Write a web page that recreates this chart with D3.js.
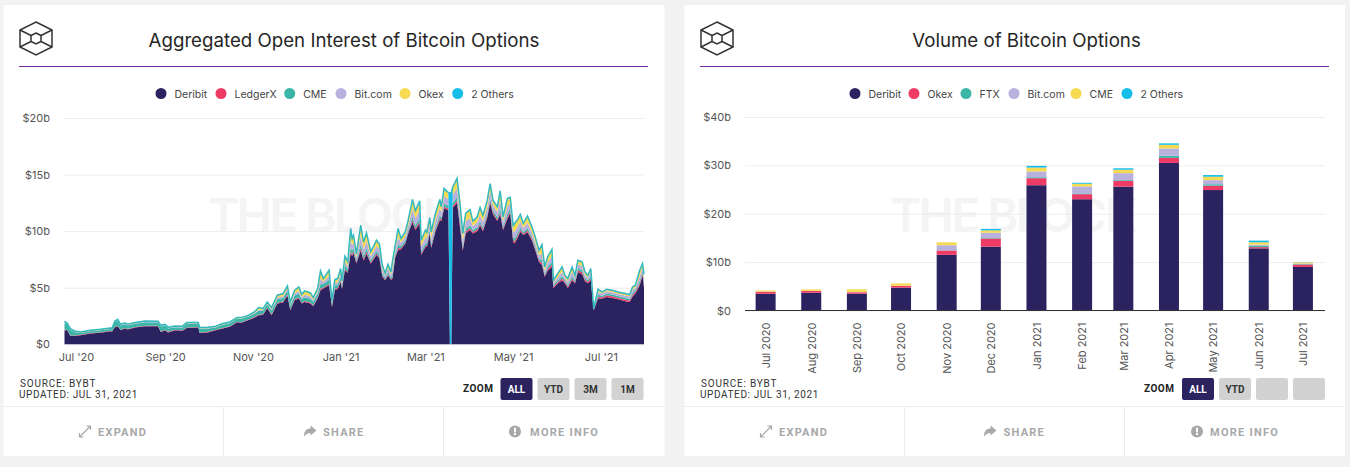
<!DOCTYPE html>
<html>
<head>
<meta charset="utf-8">
<script src="https://cdn.jsdelivr.net/npm/d3@7"></script>
<style>
    html, body { margin: 0; padding: 0; background: #f2f2f2; overflow: hidden; }
    svg { display: block; }
    text { font-family: Inter, "Noto Sans", sans-serif; }
    .foot text, text.foot { font-family: Roboto, sans-serif; }
    .axis path { display: none; }
    .axis text { fill: #555; font-size: 11px; }
</style>
</head>
<body>
<svg id="page" width="1350" height="467"></svg>
<script>
// colours are by position in the legend, both charts share them
const seriesColors = ["#2b2260", "#ee3b66", "#3ab5a6", "#b9b1dd", "#f6da52", "#16bde9"];

// ---- open interest chart, $ billions
const oiLegend = ["Deribit", "LedgerX", "CME", "Bit.com", "Okex", "2 Others"];
const oiTicks = [0, 5, 10, 15, 20];
const oiDateTicks = ["2020-07-01", "2020-09-01", "2020-11-01", "2021-01-01", "2021-03-01", "2021-05-01", "2021-07-01"];
const oiDates = [
    "2020-06-23", "2020-06-25", "2020-06-27", "2020-06-30",
    "2020-07-04", "2020-07-11", "2020-07-18", "2020-07-25", "2020-07-26", "2020-07-28", "2020-07-30",
    "2020-08-01", "2020-08-04", "2020-08-06", "2020-08-11", "2020-08-18", "2020-08-27", "2020-08-29",
    "2020-09-01", "2020-09-03", "2020-09-08", "2020-09-13", "2020-09-16", "2020-09-24", "2020-09-25", "2020-09-30",
    "2020-10-06", "2020-10-11", "2020-10-16", "2020-10-21", "2020-10-24", "2020-10-29",
    "2020-11-02", "2020-11-05", "2020-11-08", "2020-11-11", "2020-11-14", "2020-11-18", "2020-11-22", "2020-11-25", "2020-11-27", "2020-11-30",
    "2020-12-03", "2020-12-05", "2020-12-07", "2020-12-11", "2020-12-13", "2020-12-16", "2020-12-18", "2020-12-20", "2020-12-24", "2020-12-26", "2020-12-28", "2020-12-30",
    "2021-01-01", "2021-01-02", "2021-01-04", "2021-01-06", "2021-01-08", "2021-01-09", "2021-01-10", "2021-01-12", "2021-01-15", "2021-01-17", "2021-01-19", "2021-01-22", "2021-01-26", "2021-01-28", "2021-01-30",
    "2021-02-01", "2021-02-03", "2021-02-05", "2021-02-06", "2021-02-08", "2021-02-10", "2021-02-12", "2021-02-15", "2021-02-17", "2021-02-20", "2021-02-22", "2021-02-25", "2021-02-26",
    "2021-03-01", "2021-03-02", "2021-03-04", "2021-03-05", "2021-03-08", "2021-03-11", "2021-03-12", "2021-03-14", "2021-03-17", "2021-03-18", "2021-03-19", "2021-03-20", "2021-03-21", "2021-03-23", "2021-03-25", "2021-03-27", "2021-03-29",
    "2021-04-01", "2021-04-03", "2021-04-06", "2021-04-08", "2021-04-10", "2021-04-13", "2021-04-15", "2021-04-17", "2021-04-20", "2021-04-22", "2021-04-24", "2021-04-27", "2021-04-29",
    "2021-05-01", "2021-05-02", "2021-05-04", "2021-05-06", "2021-05-08", "2021-05-11", "2021-05-14", "2021-05-16", "2021-05-19", "2021-05-21", "2021-05-23", "2021-05-25", "2021-05-28", "2021-05-29",
    "2021-06-01", "2021-06-04", "2021-06-06", "2021-06-08", "2021-06-11", "2021-06-13", "2021-06-15", "2021-06-18", "2021-06-20", "2021-06-22", "2021-06-24", "2021-06-26", "2021-06-29",
    "2021-07-02", "2021-07-05", "2021-07-09", "2021-07-13", "2021-07-18", "2021-07-21", "2021-07-23", "2021-07-25", "2021-07-28", "2021-07-30", "2021-07-31"
];
const oiDeribit = [
    1.24, 1.24, .73, .73,
    .80, .95, 1.03, 1.15, 1.12, 1.50, 1.59,
    1.24, 1.40, 1.30, 1.48, 1.59, 1.59, 1.09,
    1.24, 1.05, 1.24, 1.20, 1.44, 1.48, 1.00, 1.03,
    1.24, 1.40, 1.55, 1.95, 1.90, 2.15,
    2.35, 2.57, 2.60, 3.20, 2.57, 3.60, 3.70, 4.34, 3.00, 3.90,
    4.05, 3.60, 3.74, 3.60, 3.36, 4.05, 4.78, 4.93, 5.22, 3.30, 4.78, 4.90,
    5.51, 4.90, 6.55, 6.30, 8.05, 7.80, 8.05, 7.15, 8.30, 7.40, 8.00, 7.15, 7.90, 7.60, 6.00,
    5.66, 6.10, 5.70, 5.80, 7.70, 8.32, 8.40, 8.90, 9.80, 10.8, 10.1, 10.7, 7.90,
    8.60, 8.60, 9.80, 8.50, 10.0, 10.97, 10.9, 12.0, 11.86, 0, 0, 12.1, 12.2, 12.5, 10.4, 8.30, 9.80,
    10.1, 9.80, 10.0, 10.5, 10.0, 11.2, 12.5, 11.5, 10.9, 11.5, 10.1, 11.1, 11.6,
    9.05, 8.90, 9.40, 9.94, 9.65, 9.90, 9.20, 8.47, 7.28, 7.00, 5.96, 6.50, 6.84, 4.98,
    5.37, 5.66, 5.40, 4.98, 5.66, 5.37, 6.40, 6.20, 5.57, 5.40, 5.66, 3.00, 4.04,
    4.04, 4.19, 4.10, 3.98, 3.80, 3.74, 4.20, 4.50, 5.20, 6.10, 5.00
];
const oiLedgerX = [
    .05, .05, .05, .05,
    .04, .04, .04, .04, .04, .05, .05,
    .05, .05, .05, .05, .05, .05, .05,
    .05, .05, .05, .05, .05, .05, .05, .05,
    .05, .05, .05, .05, .05, .05,
    .06, .07, .06, .06, .08, .08, .08, .08, .08, .08,
    .09, .08, .09, .09, .08, .09, .12, .10, .12, .08, .10, .10,
    .12, .10, .12, .10, .18, .16, .16, .10, .20, .15, .18, .10, .12, .12, .10,
    .07, .10, .07, .12, .10, .16, .10, .10, .10, .18, .16, .18, .12,
    .12, .12, .12, .12, .14, .16, .12, .16, .14, .01, .01, .16, .18, .20, .20, .14, .16,
    .16, .12, .14, .16, .15, .16, .18, .14, .14, .20, .14, .18, .16,
    .16, .18, .18, .16, .12, .16, .14, .14, .12, .20, .12, .16, .18, .12,
    .13, .16, .12, .13, .16, .12, .15, .16, .13, .12, .16, .03, .15,
    .12, .14, .14, .13, .13, .13, .16, .14, .18, .18, .18
];
const oiCme = [
    .64, .46, .51, .30,
    .16, .17, .18, .17, .16, .41, .47,
    .38, .33, .32, .29, .31, .28, .43,
    .37, .29, .22, .24, .32, .28, .32, .29,
    .19, .27, .26, .25, .30, .26,
    .28, .33, .30, .28, .33, .30, .31, .32, .30, .33,
    .35, .31, .33, .33, .31, .32, .40, .30, .36, .22, .28, .28,
    .30, .20, .30, .25, .35, .30, .30, .20, .35, .30, .30, .20, .22, .22, .20,
    .15, .18, .15, .25, .20, .30, .20, .20, .20, .30, .25, .30, .20,
    .22, .22, .22, .22, .24, .26, .20, .26, .24, .01, .01, .26, .28, .30, .30, .22, .26,
    .26, .18, .20, .22, .20, .22, .25, .20, .20, .30, .20, .26, .24,
    .24, .26, .24, .22, .16, .20, .18, .18, .16, .26, .15, .20, .24, .14,
    .16, .20, .14, .16, .20, .14, .18, .20, .15, .14, .20, .04, .18,
    .14, .16, .16, .15, .16, .16, .18, .16, .22, .20, .22
];
const oiBitcom = [
    .02, .02, .02, .02,
    .02, .02, .02, .02, .02, .03, .03,
    .03, .03, .03, .03, .04, .04, .04,
    .04, .04, .04, .04, .04, .04, .04, .04,
    .04, .04, .04, .04, .04, .04,
    .06, .09, .07, .07, .10, .13, .15, .16, .15, .20,
    .23, .18, .22, .22, .16, .20, .50, .20, .35, .10, .22, .22,
    .30, .15, .32, .25, .75, .50, .52, .25, .78, .55, .65, .35, .45, .45, .35,
    .20, .35, .23, .50, .36, .68, .30, .35, .40, .72, .62, .72, .45,
    .52, .45, .50, .52, .60, .70, .45, .68, .58, .01, .01, .66, .75, .80, .80, .50, .65,
    .65, .36, .45, .55, .50, .55, .65, .45, .45, .78, .43, .65, .50,
    .50, .62, .55, .55, .35, .50, .38, .38, .32, .55, .28, .40, .50, .20,
    .27, .40, .22, .28, .40, .25, .35, .35, .28, .24, .38, .04, .26,
    .18, .20, .21, .20, .22, .20, .28, .22, .40, .35, .40
];
const oiOkex = [
    .05, .05, .05, .05,
    .04, .04, .04, .04, .04, .05, .05,
    .05, .05, .05, .05, .05, .05, .05,
    .05, .05, .05, .05, .05, .05, .05, .05,
    .05, .05, .05, .05, .05, .05,
    .09, .17, .11, .11, .15, .21, .23, .24, .19, .25,
    .33, .23, .32, .28, .20, .25, .65, .25, .46, .12, .31, .28,
    .42, .20, .45, .35, .85, .53, .56, .25, .84, .59, .66, .35, .45, .40, .30,
    .15, .30, .20, .55, .35, .72, .30, .34, .42, .74, .61, .72, .48,
    .58, .46, .50, .52, .56, .65, .42, .62, .52, .01, .01, .65, .68, .79, .73, .58, .67,
    .67, .38, .42, .60, .48, .54, .55, .38, .39, .72, .33, .64, .43,
    .48, .65, .56, .53, .33, .52, .41, .41, .35, .74, .26, .40, .57, .16,
    .26, .36, .16, .20, .36, .16, .29, .31, .21, .14, .24, .02, .16,
    .10, .13, .12, .12, .13, .12, .20, .15, .47, .26, .35
];
const oiOthers = [
    .03, .03, .03, .03,
    .03, .02, .02, .02, .02, .02, .02,
    .02, .02, .02, .02, .02, .02, .02,
    .02, .02, .02, .02, .02, .02, .02, .02,
    .02, .02, .02, .02, .02, .02,
    .02, .02, .02, .02, .02, .02, .02, .02, .02, .02,
    .02, .02, .02, .02, .02, .02, .04, .03, .04, .03, .03, .03,
    .05, .05, .05, .05, .06, .06, .06, .05, .06, .06, .06, .05, .06, .06, .05,
    .05, .05, .05, .06, .05, .06, .05, .05, .05, .06, .06, .06, .05,
    .05, .05, .06, .06, .06, .06, .06, .06, .06, 13.3, 13.4, .07, .07, .07, .07, .06, .06,
    .06, .06, .06, .07, .07, .07, .07, .07, .07, .07, .07, .07, .07,
    .07, .07, .07, .07, .07, .07, .07, .07, .07, .07, .07, .07, .07, .06,
    .06, .06, .06, .06, .06, .06, .06, .06, .06, .06, .06, .03, .08,
    .05, .05, .05, .05, .05, .05, .05, .05, .08, .05, .05
];

// ---- volume chart, $ billions per month
const volLegend = ["Deribit", "Okex", "FTX", "Bit.com", "CME", "2 Others"];
const volTicks = [0, 10, 20, 30, 40];
const volMonths = ["2020-07-01", "2020-08-01", "2020-09-01", "2020-10-01", "2020-11-01", "2020-12-01",
    "2021-01-01", "2021-02-01", "2021-03-01", "2021-04-01", "2021-05-01", "2021-06-01", "2021-07-01"];
const volDeribit = [3.47, 3.68, 3.47, 4.72, 11.5, 13.2, 25.9, 23.0, 25.6, 30.5, 24.9, 12.85, 9.0];
const volOkex = [.40, .35, .30, .35, .90, 1.67, 1.45, 1.05, 1.20, 1.05, .90, .25, .50];
const volFtx = [0, 0, 0, 0, .05, .10, .20, .15, .15, .45, .30, .30, .10];
const volBitcom = [.03, .03, .05, .05, 1.05, 1.10, 1.20, 1.45, 1.45, 1.50, .85, .20, .10];
const volCme = [.25, .30, .55, .48, .60, .50, .80, .55, .70, .75, .70, .50, .25];
const volOthers = [0, 0, 0, 0, 0, .30, .35, .20, .30, .30, .35, .35, .05];

const parseDay = d3.utcParse("%Y-%m-%d");
const svg = d3.select("#page");

// white card with logo, title, legend, source line, zoom buttons and footer
function drawCard(opts) {
    const ox = opts.x, w = opts.w;
    const g = svg.append("g");
    g.append("rect").attr("x", ox).attr("y", 5).attr("width", w).attr("height", 451).attr("fill", "#fff");

    // logo
    const logo = g.append("g").attr("transform", "translate(" + opts.logoX + ",38.5)")
        .attr("fill", "none").attr("stroke", "#333").attr("stroke-width", 1.5);
    logo.append("path").attr("d", "M0,-16.5L16,-8.5V8.5L0,16.5L-16,8.5V-8.5Z");
    logo.append("path").attr("d", "M0,-5.5L5,-3V3L0,5.5L-5,3V-3Z");
    logo.append("path").attr("d", "M-16,-8.5L-5,-3M16,-8.5L5,-3M-16,8.5L-5,3M16,8.5L5,3");

    // title and rule
    g.append("text").attr("x", opts.titleX).attr("y", 47).attr("text-anchor", "middle")
        .attr("font-size", 18.7).attr("fill", "#262626").text(opts.title);
    g.append("line").attr("x1", opts.ruleX).attr("x2", opts.ruleX + 629).attr("y1", 66.5).attr("y2", 66.5)
        .attr("stroke", "#7a2f9e").attr("stroke-width", 1);

    // legend
    opts.legend.forEach(function (name, i) {
        g.append("circle").attr("cx", opts.legendDots[i]).attr("cy", 93.5).attr("r", 5.5).attr("fill", seriesColors[i]);
        g.append("text").attr("x", opts.legendDots[i] + 13.5).attr("y", 97.5)
            .attr("font-size", 10.5).attr("fill", "#444").text(name);
    });

    // watermark sits under the marks
    g.append("text").attr("x", opts.markX).attr("y", 232).attr("font-size", 47).attr("font-weight", 600)
        .attr("textLength", 248).attr("fill", "#f4f4f4").text("THE BLOCK");

    // source lines
    const foot = g.append("g").attr("class", "foot");
    foot.append("text").attr("x", opts.ruleX + 1).attr("y", 386.5).attr("font-size", 10).attr("letter-spacing", .8)
        .attr("fill", "#333").text("SOURCE: BYBT");
    foot.append("text").attr("x", opts.ruleX).attr("y", 397.5).attr("font-size", 10).attr("letter-spacing", .6)
        .attr("fill", "#333").text("UPDATED: JUL 31, 2021");

    // zoom buttons
    foot.append("text").attr("x", opts.zoomX).attr("y", 391.5).attr("font-size", 10).attr("font-weight", 700)
        .attr("letter-spacing", .5).attr("fill", "#222").text("ZOOM");
    opts.buttons.forEach(function (label, i) {
        const bx = opts.buttonX[i];
        foot.append("rect").attr("x", bx).attr("y", 378).attr("width", 32).attr("height", 22).attr("rx", 2)
            .attr("fill", i === 0 ? "#2b2260" : "#d2d2d2");
        foot.append("text").attr("x", bx + 16).attr("y", 392.5).attr("text-anchor", "middle")
            .attr("font-size", 10).attr("font-weight", 700).attr("fill", i === 0 ? "#fff" : "#333").text(label);
    });

    // footer links
    g.append("line").attr("x1", ox).attr("x2", ox + w).attr("y1", 406.5).attr("y2", 406.5).attr("stroke", "#ececec");
    opts.footDividers.forEach(function (fx) {
        g.append("line").attr("x1", fx).attr("x2", fx).attr("y1", 407).attr("y2", 456).attr("stroke", "#ececec");
    });
    ["EXPAND", "SHARE", "MORE INFO"].forEach(function (label, i) {
        foot.append("text").attr("x", opts.footTextX[i]).attr("y", 436).attr("font-size", 11).attr("font-weight", 700)
            .attr("letter-spacing", 1.25).attr("fill", "#a8a8a8").text(label);
        const icon = foot.append("g").attr("transform", "translate(" + opts.footIconX[i] + ",431.5)");
        if (i === 0) {
            icon.append("path").attr("d", "M-5,5L5,-5M1.5,-5.5H5.5V-1.5M-5.5,1.5V5.5H-1.5").attr("fill", "none")
                .attr("stroke", "#a8a8a8").attr("stroke-width", 1.2);
        } else if (i === 1) {
            icon.append("path").attr("d", "M6.5,-1L0.5,-6V-3C-4,-3 -6,0 -6,5.5C-4.5,2.5 -2.5,1.5 0.5,1.5V4Z").attr("fill", "#a8a8a8");
        } else {
            icon.append("circle").attr("r", 6).attr("fill", "#a8a8a8");
            icon.append("rect").attr("x", -1).attr("y", -3.8).attr("width", 2).attr("height", 4.6).attr("fill", "#fff");
            icon.append("rect").attr("x", -1).attr("y", 1.6).attr("width", 2).attr("height", 2).attr("fill", "#fff");
        }
    });
}

function yAxisLabel(d) { return d === 0 ? "$0" : "$" + d + "b"; }

// y axis with gridlines running across the plot
function drawYAxis(y, ticks, left, right) {
    const axis = d3.axisLeft(y).tickValues(ticks).tickFormat(yAxisLabel).tickSize(0).tickPadding(14);
    const g = svg.append("g").attr("class", "axis").attr("transform", "translate(" + left + ",0)").call(axis);
    g.selectAll(".tick line").attr("x2", right - left).attr("stroke", "#ededed");
}

function drawOpenInterest() {
    drawCard({
        x: 3.5, w: 661, logoX: 36, titleX: 344, ruleX: 19, markX: 208,
        title: "Aggregated Open Interest of Bitcoin Options",
        legend: oiLegend, legendDots: [161, 221, 289.7, 341, 405, 457.7],
        zoomX: 463, buttons: ["ALL", "YTD", "3M", "1M"], buttonX: [500.5, 537.5, 574.5, 611.5],
        footDividers: [223.5, 443.5], footTextX: [98, 323, 530], footIconX: [85, 310, 515]
    });

    const x = d3.scaleUtc().domain([parseDay("2020-06-23"), parseDay("2021-07-31")]).range([64.5, 644]);
    const y = d3.scaleLinear().domain([0, 20]).range([344.3, 118]);
    drawYAxis(y, oiTicks, 64, 644);

    const rows = oiDates.map(function (d, i) {
        return {
            date: parseDay(d), Deribit: oiDeribit[i], LedgerX: oiLedgerX[i], CME: oiCme[i],
            "Bit.com": oiBitcom[i], Okex: oiOkex[i], "2 Others": oiOthers[i]
        };
    });
    const layers = d3.stack().keys(oiLegend)(rows);

    const area = d3.area().x(function (d) { return x(d.data.date); })
        .y0(function (d) { return y(d[0]); }).y1(function (d) { return y(d[1]); });
    const edge = d3.line().x(function (d) { return x(d.data.date); }).y(function (d) { return y(d[1]); });

    svg.append("g").selectAll("path").data(layers).join("path")
        .attr("d", area).attr("fill", function (d, i) { return seriesColors[i]; });
    // only the top of the stack carries a line, teal blending into the cyan band
    svg.append("path").datum(layers[layers.length - 1]).attr("d", edge)
        .attr("fill", "none").attr("stroke", "#33b8bd").attr("stroke-width", 1.5);

    const xAxis = d3.axisBottom(x).tickValues(oiDateTicks.map(parseDay))
        .tickFormat(d3.utcFormat("%b '%y")).tickSize(0).tickPadding(9);
    svg.append("g").attr("class", "axis").attr("transform", "translate(0,344.3)").call(xAxis);
}

function drawVolume() {
    drawCard({
        x: 684.5, w: 660.5, logoX: 717, titleX: 1026.5, ruleX: 700, markX: 890,
        title: "Volume of Bitcoin Options",
        legend: volLegend, legendDots: [855, 914, 966, 1014, 1076, 1127],
        zoomX: 1144, buttons: ["ALL", "YTD", "", ""], buttonX: [1182, 1219, 1256, 1293],
        footDividers: [904.5, 1124.5], footTextX: [779, 1003.5, 1210], footIconX: [766, 990, 1197]
    });

    const x = d3.scaleUtc().domain([parseDay("2020-06-17"), parseDay("2021-07-16")]).range([745, 1325]);
    const y = d3.scaleLinear().domain([0, 40]).range([310.5, 117]);
    drawYAxis(y, volTicks, 745, 1325);

    const rows = volMonths.map(function (d, i) {
        return {
            date: parseDay(d), Deribit: volDeribit[i], Okex: volOkex[i], FTX: volFtx[i],
            "Bit.com": volBitcom[i], CME: volCme[i], "2 Others": volOthers[i]
        };
    });
    const layers = d3.stack().keys(volLegend)(rows);
    const barWidth = 20;

    svg.append("g").selectAll("g").data(layers).join("g")
        .attr("fill", function (d, i) { return seriesColors[i]; })
        .selectAll("rect").data(function (d) { return d; }).join("rect")
        .attr("x", function (d) { return x(d.data.date) - barWidth / 2; })
        .attr("width", barWidth)
        .attr("y", function (d) { return y(d[1]); })
        .attr("height", function (d) { return y(d[0]) - y(d[1]); });

    const xAxis = d3.axisBottom(x).tickValues(volMonths.map(parseDay))
        .tickFormat(d3.utcFormat("%b %Y")).tickSize(0).tickPadding(12);
    const g = svg.append("g").attr("class", "axis").attr("transform", "translate(0,310.5)").call(xAxis);
    g.selectAll("text").attr("transform", "rotate(-90)").attr("text-anchor", "end")
        .attr("x", -12).attr("y", 0).attr("dy", "0.35em");

    // dark baseline, the domain path of the axis is hidden
    svg.append("line").attr("x1", 745).attr("x2", 1325).attr("y1", y(0)).attr("y2", y(0))
        .attr("stroke", "#333").attr("stroke-width", 1);
}

drawOpenInterest();
drawVolume();
</script>
</body>
</html>
